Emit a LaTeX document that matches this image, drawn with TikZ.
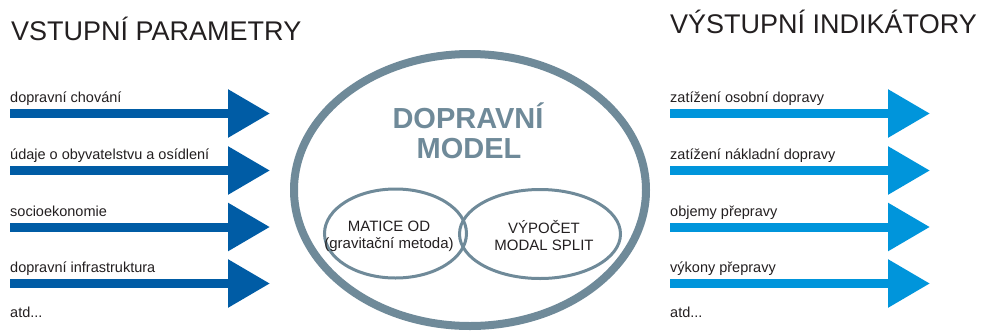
\documentclass[tikz,border=0pt]{standalone}
\usepackage{fontspec}
\setmainfont{Liberation Sans}
\usetikzlibrary{arrows.meta,shapes.geometric}

\definecolor{inblue}{HTML}{005CA5}
\definecolor{outblue}{HTML}{0095DB}
\definecolor{modelgray}{HTML}{6F8A99}
\definecolor{txtdark}{HTML}{231F20}

\tikzset{
  fatarrow/.style={line width=9pt, -{Triangle[length=42pt,width=46pt]}},
  lbl/.style={anchor=base west, inner sep=0pt, text=txtdark, font=\fontsize{14.5}{17}\selectfont},
  title/.style={anchor=base west, inner sep=0pt, text=txtdark, font=\fontsize{27}{30}\selectfont},
  subell/.style={ellipse, draw=modelgray, line width=3pt, minimum height=89pt, inner sep=0pt},
  subtxt/.style={align=center, inner sep=0pt, text=txtdark, font=\fontsize{15}{17}\selectfont}
}

\begin{document}
\begin{tikzpicture}[x=1pt,y=-1pt]
  \useasboundingbox (0,0) rectangle (983,333);

  % Nadpisy
  \node[title] (tin) at (11,40) {VSTUPNÍ PARAMETRY};
  \node[title] (tout) at (670,33) {VÝSTUPNÍ INDIKÁTORY};

  % Vstupy (tmavě modré šipky)
  \foreach \y/\txt [count=\i] in {113.5/dopravní chování, 170.5/údaje o obyvatelstvu a osídlení,
      227/socioekonomie, 283.5/dopravní infrastruktura}{
    \coordinate (in-s\i) at (10,\y);
    \coordinate (in-e\i) at (270,\y);
    \draw[fatarrow, inblue] (in-s\i) -- (in-e\i);
    \node[lbl] (in-l\i) at (10,\y-11) {\txt};
  }
  \node[lbl] (in-etc) at (10,317) {atd...};

  % Výstupy (světle modré šipky)
  \foreach \y/\txt [count=\i] in {113.5/zatížení osobní dopravy, 170.5/zatížení nákladní dopravy,
      227/objemy přepravy, 283.5/výkony přepravy}{
    \coordinate (out-s\i) at (670,\y);
    \coordinate (out-e\i) at (930,\y);
    \draw[fatarrow, outblue] (out-s\i) -- (out-e\i);
    \node[lbl] (out-l\i) at (670,\y-11) {\txt};
  }
  \node[lbl] (out-etc) at (670,317) {atd...};

  % Dopravní model
  \node[ellipse, draw=modelgray, line width=8pt, minimum width=352pt, minimum height=272pt,
    inner sep=0pt] (model) at (470,190) {};
  \node[anchor=base, inner sep=0pt, text=modelgray, font=\bfseries\fontsize{29}{31}\selectfont]
    (mtit1) at (468,128) {DOPRAVNÍ};
  \node[anchor=base, inner sep=0pt, text=modelgray, font=\bfseries\fontsize{29}{31}\selectfont]
    (mtit2) at (469,158) {MODEL};

  % Dílčí kroky
  \node[subell, minimum width=142pt] (matice) at (395.5,233.5) {};
  \node[subell, minimum width=161pt] (split) at (540,234) {};
  \node[subtxt] (matice-t) at (389,236) {MATICE OD\\(gravitační metoda)};
  \node[subtxt] (split-t) at (544,236) {VÝPOČET\\MODAL SPLIT};
\end{tikzpicture}
\end{document}
